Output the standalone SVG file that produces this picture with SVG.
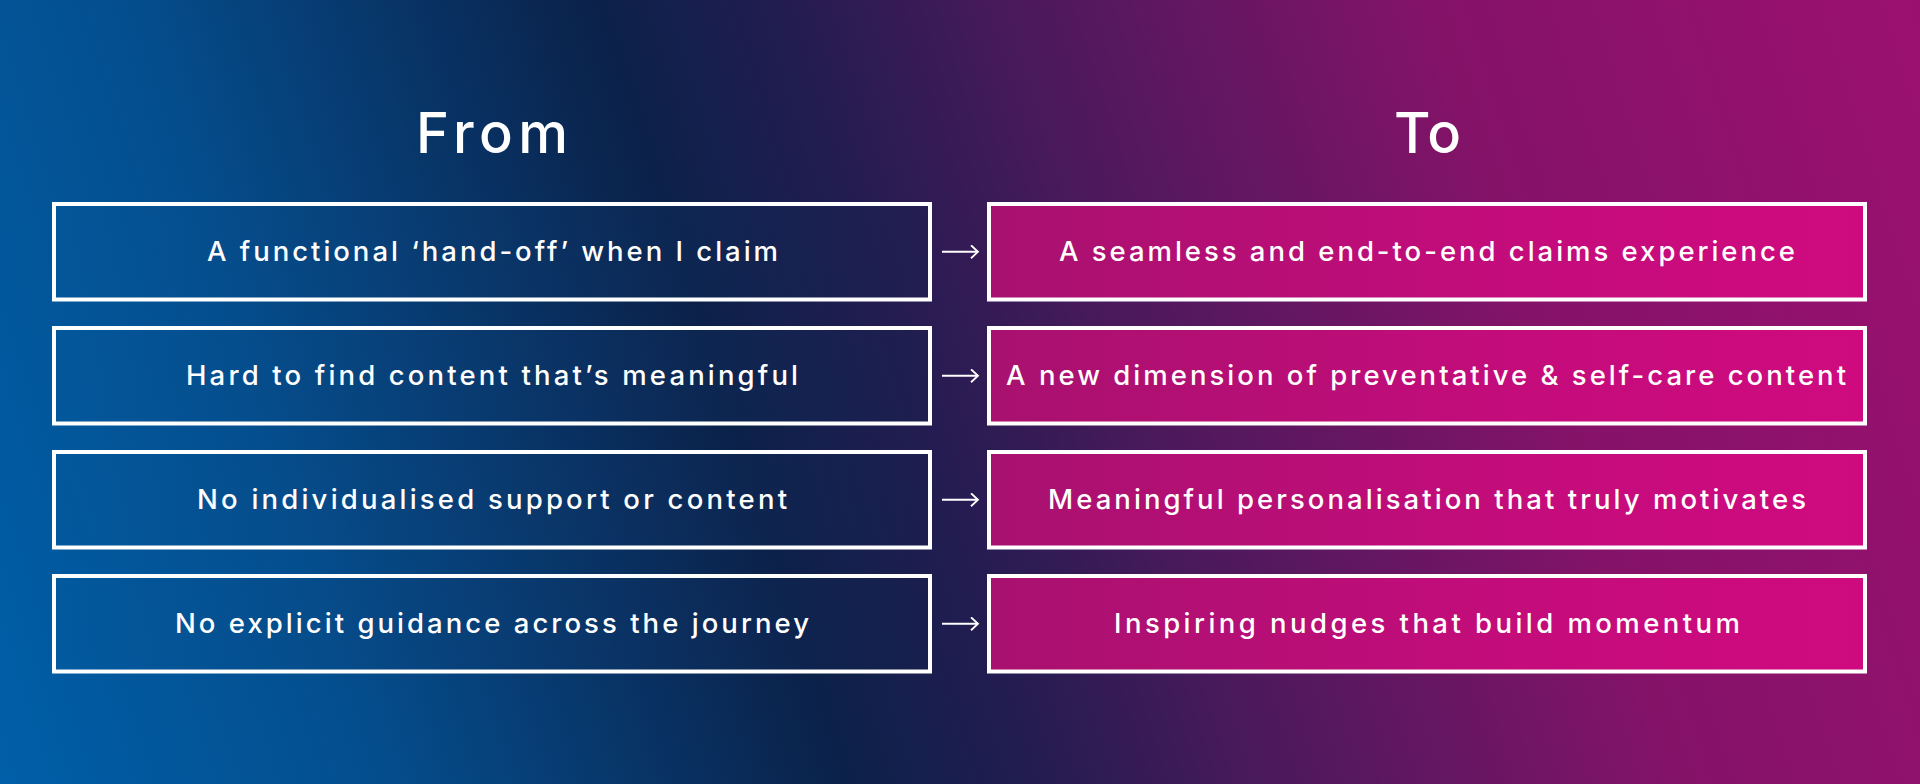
<svg xmlns="http://www.w3.org/2000/svg" width="1920" height="784" viewBox="0 0 1920 784">
  <defs>
    <linearGradient id="bg" gradientUnits="userSpaceOnUse" x1="-100" y1="700" x2="1938" y2="50">
      <stop offset="0.03" stop-color="#005fa8"/>
      <stop offset="0.2" stop-color="#044e8e"/>
      <stop offset="0.41" stop-color="#0b2149"/>
      <stop offset="0.5" stop-color="#251c52"/>
      <stop offset="0.6" stop-color="#4c195c"/>
      <stop offset="0.78" stop-color="#841368"/>
      <stop offset="1" stop-color="#9b106f"/>
    </linearGradient>
    <linearGradient id="fromFill" gradientUnits="objectBoundingBox" x1="0" y1="0" x2="1" y2="0">
      <stop offset="0" stop-color="#04599c" stop-opacity="0.35"/>
      <stop offset="1" stop-color="#14204a" stop-opacity="0.35"/>
    </linearGradient>
    <linearGradient id="toFill" gradientUnits="objectBoundingBox" x1="0" y1="0" x2="1" y2="0">
      <stop offset="0" stop-color="#a8116f"/>
      <stop offset="0.6" stop-color="#c40c7b"/>
      <stop offset="1" stop-color="#cf0a7f"/>
    </linearGradient>
    <marker id="arr" markerUnits="userSpaceOnUse" markerWidth="12" markerHeight="16" refX="9" refY="7" orient="auto">
      <path d="M2,0.5 L9,7 L2,13.5" fill="none" stroke="#ffffff" stroke-width="1.8"/>
    </marker>
  </defs>
  <style>
    .hdr { font-family: Inter, "Liberation Sans", sans-serif; font-weight: 500; font-size: 56px; fill: #ffffff; }
    .lbl { font-family: Inter, "Liberation Sans", sans-serif; font-weight: 500; font-size: 27.5px; fill: #ffffff; }
    .from { fill: url(#fromFill); stroke: #ffffff; stroke-width: 4; }
    .to { fill: url(#toFill); stroke: #ffffff; stroke-width: 4; }
    .conn { stroke: #ffffff; stroke-width: 1.8; fill: none; marker-end: url(#arr); }
  </style>
  <rect x="0" y="0" width="1920" height="784" fill="url(#bg)"/>

  <g id="header-from"><text class="hdr" x="416" y="152.5" textLength="152" lengthAdjust="spacing">From</text></g>
  <g id="header-to"><text class="hdr" x="1394" y="152.5" textLength="67" lengthAdjust="spacing">To</text></g>

  <g id="from-1"><rect class="from" x="54" y="204" width="876" height="95.5"/><text class="lbl" x="207" y="261" textLength="571" lengthAdjust="spacing">A functional ‘hand-off’ when I claim</text></g>
  <g id="from-2"><rect class="from" x="54" y="328" width="876" height="95.5"/><text class="lbl" x="186" y="385" textLength="612" lengthAdjust="spacing">Hard to find content that’s meaningful</text></g>
  <g id="from-3"><rect class="from" x="54" y="452" width="876" height="95.5"/><text class="lbl" x="197" y="509" textLength="590" lengthAdjust="spacing">No individualised support or content</text></g>
  <g id="from-4"><rect class="from" x="54" y="576" width="876" height="95.5"/><text class="lbl" x="175" y="633" textLength="634" lengthAdjust="spacing">No explicit guidance across the journey</text></g>

  <g id="to-1"><rect class="to" x="989" y="204" width="876" height="95.5"/><text class="lbl" x="1059" y="261" textLength="736" lengthAdjust="spacing">A seamless and end-to-end claims experience</text></g>
  <g id="to-2"><rect class="to" x="989" y="328" width="876" height="95.5"/><text class="lbl" x="1006" y="385" textLength="840" lengthAdjust="spacing">A new dimension of preventative &amp; self-care content</text></g>
  <g id="to-3"><rect class="to" x="989" y="452" width="876" height="95.5"/><text class="lbl" x="1048" y="509" textLength="758" lengthAdjust="spacing">Meaningful personalisation that truly motivates</text></g>
  <g id="to-4"><rect class="to" x="989" y="576" width="876" height="95.5"/><text class="lbl" x="1114" y="633" textLength="626" lengthAdjust="spacing">Inspiring nudges that build momentum</text></g>

  <g id="connectors">
    <line class="conn" x1="942" y1="251.75" x2="978" y2="251.75"/>
    <line class="conn" x1="942" y1="375.75" x2="978" y2="375.75"/>
    <line class="conn" x1="942" y1="499.75" x2="978" y2="499.75"/>
    <line class="conn" x1="942" y1="623.75" x2="978" y2="623.75"/>
  </g>
</svg>
